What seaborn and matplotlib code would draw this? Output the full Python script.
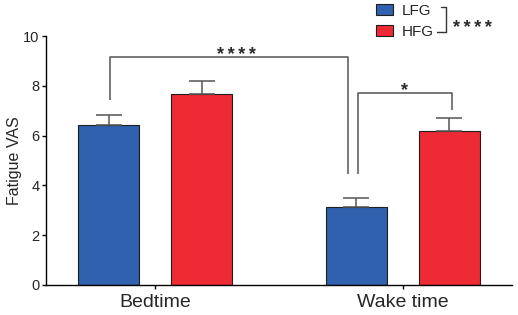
"""Fatigue VAS by time of day, LFG vs HFG, bar chart with SEM and significance brackets."""

import matplotlib

matplotlib.use("Agg")

import matplotlib.pyplot as plt
import pandas as pd
import seaborn as sns
from matplotlib.lines import Line2D

# data
times = ["Bedtime", "Wake time"]
groups = ["LFG", "HFG"]
mean_lfg = [6.43, 3.15]
mean_hfg = [7.68, 6.20]
sem_lfg = [0.40, 0.36]
sem_hfg = [0.50, 0.49]
y_ticks = [0, 2, 4, 6, 8, 10]

colors = {"LFG": "#2f61ae", "HFG": "#ee2a35"}
line_grey = "#555555"
stars4 = "\u2009".join("****")

frame = pd.DataFrame(
    {
        "time": times * 2,
        "group": ["LFG"] * 2 + ["HFG"] * 2,
        "vas": mean_lfg + mean_hfg,
        "sem": sem_lfg + sem_hfg,
    }
)

sns.set_theme(style="ticks")
plt.rcParams["font.family"] = ["Liberation Sans", "DejaVu Sans"]

fig = plt.figure(figsize=(5.18, 3.15), dpi=100)
ax = fig.add_axes([46 / 518, 1 - 285 / 315, 466 / 518, 249 / 315])

sns.barplot(
    data=frame,
    x="time",
    y="vas",
    hue="group",
    order=times,
    hue_order=groups,
    palette=colors,
    width=0.75,
    gap=0.344,
    errorbar=None,
    edgecolor="#1e1e1e",
    linewidth=0.8,
    saturation=1,
    ax=ax,
)

# bar centres, taken from the drawn patches (order: hue level, then category)
centres = {}
for patch, (g, t) in zip(ax.patches, [(g, t) for g in groups for t in times]):
    centres[(g, t)] = patch.get_x() + patch.get_width() / 2

for g, means, sems in [("LFG", mean_lfg, sem_lfg), ("HFG", mean_hfg, sem_hfg)]:
    xs = [centres[(g, t)] for t in times]
    ax.errorbar(
        xs,
        means,
        yerr=[[0] * len(sems), sems],
        fmt="none",
        ecolor=line_grey,
        elinewidth=1.1,
        capsize=9.7,
        capthick=1.1,
        zorder=1,
    )

# significance brackets
x_bed_l = centres[("LFG", "Bedtime")] + 0.006
x_wake_l1 = centres[("LFG", "Wake time")] - 0.034
x_wake_l2 = centres[("LFG", "Wake time")] + 0.006
x_wake_h = centres[("HFG", "Wake time")] + 0.010

star_kw = dict(ha="center", va="baseline", fontsize=13, fontweight="bold", color="#2a2a2a")
bracket_kw = dict(color=line_grey, lw=1.1, solid_capstyle="butt", clip_on=False)
ax.plot([x_bed_l, x_bed_l, x_wake_l1, x_wake_l1], [7.43, 9.17, 9.17, 4.46], **bracket_kw)
ax.plot([x_wake_l2, x_wake_l2, x_wake_h, x_wake_h], [4.46, 7.73, 7.73, 7.03], **bracket_kw)
ax.text((x_bed_l + x_wake_l1) / 2 + 0.03, 9.05, stars4, **star_kw)
ax.text((x_wake_l2 + x_wake_h) / 2, 7.62, "*", **star_kw)

ax.set_xlim(-0.44, 1.44)
ax.set_ylim(0, 10)
ax.set_yticks(y_ticks)
ax.set_xlabel("")
ax.set_ylabel("Fatigue VAS", fontsize=11.5, labelpad=1)
ax.tick_params(axis="y", labelsize=10.5, length=3, width=1, pad=1.5, color="black")
ax.tick_params(axis="x", labelsize=14, length=3, width=1, pad=3.5, color="black")
for side in ["left", "bottom"]:
    ax.spines[side].set_linewidth(1.0)
    ax.spines[side].set_color("black")
sns.despine(ax=ax)

# legend at the top right with its own bracket
handles, labels = ax.get_legend_handles_labels()
ax.legend(
    handles,
    labels,
    loc="upper left",
    bbox_to_anchor=(376 / 518, 1 - 3.5 / 315),
    bbox_transform=fig.transFigure,
    frameon=False,
    fontsize=11,
    handlelength=1.1,
    handleheight=0.8,
    handletextpad=0.6,
    labelspacing=0.45,
    borderpad=0,
    borderaxespad=0,
)
fx = lambda px: px / 518
fy = lambda py: 1 - py / 315
fig.add_artist(Line2D([fx(441), fx(446), fx(446), fx(437)], [fy(7), fy(7), fy(32), fy(32)],
                      color="#333333", lw=1.0, transform=fig.transFigure))
fig.text(fx(472), fy(33), stars4, ha="center", va="baseline", fontsize=13,
         fontweight="bold", color="#2a2a2a")

fig.savefig("out.png", dpi=100)
